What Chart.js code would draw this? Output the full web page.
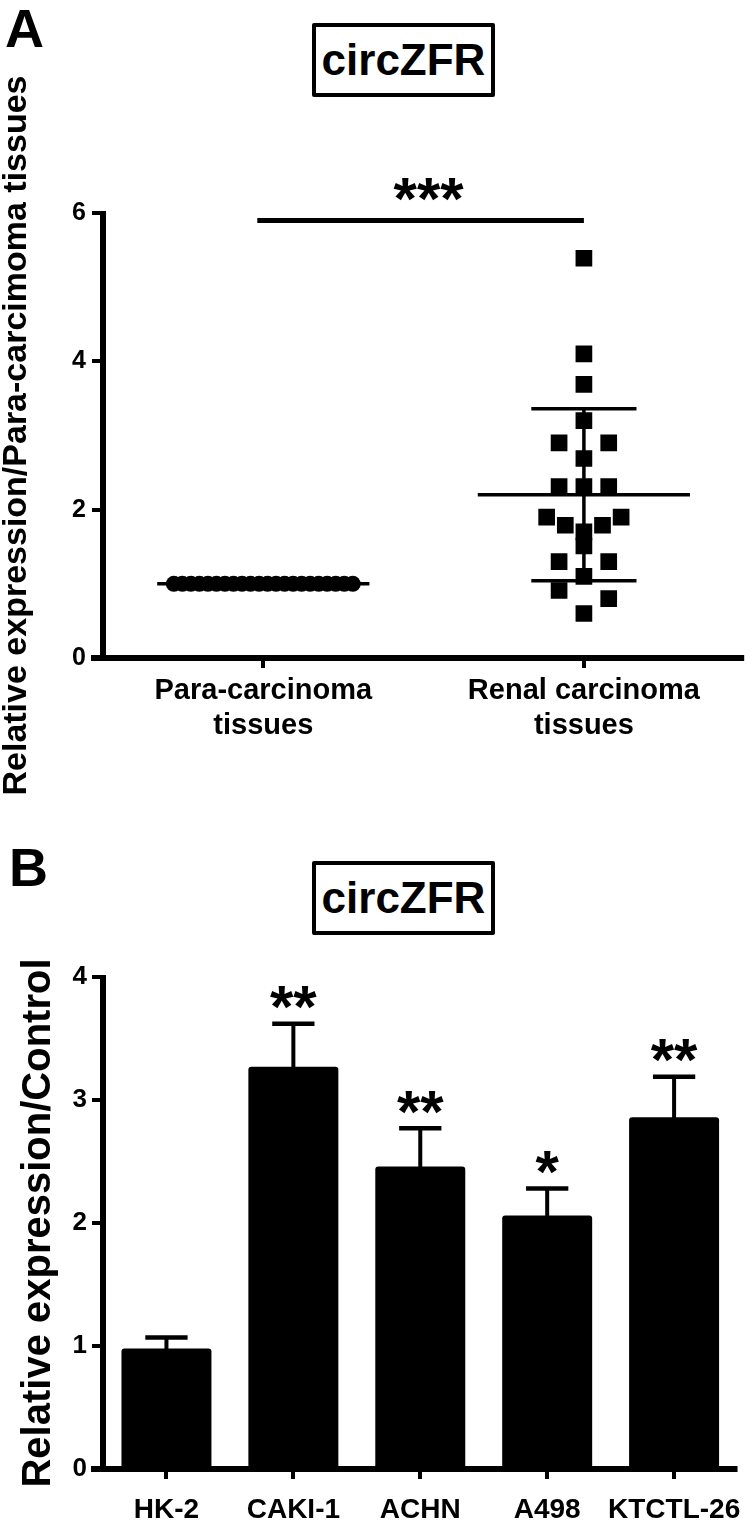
<!DOCTYPE html>
<html lang="en">
<head>
<meta charset="UTF-8">
<title>circZFR expression</title>
<script src="https://cdn.jsdelivr.net/npm/chart.js"></script>
<style>
    body {
        margin: 0;
        background: #fff;
        font-family: "Liberation Sans", Arial, sans-serif;
    }
    #page {
        position: relative;
        width: 756px;
        height: 1525px;
        overflow: hidden;
    }
    .panel-label {
        position: absolute;
        font-weight: bold;
        font-size: 54px;
        line-height: 1;
    }
    .title-box {
        position: absolute;
        left: 312px;
        width: 183px;
        height: 74px;
        box-sizing: border-box;
        border: 4px solid #000;
        border-radius: 2px;
        display: flex;
        align-items: center;
        justify-content: center;
        font-weight: bold;
        font-size: 44px;
        line-height: 1;
    }
    canvas {
        position: absolute;
        left: 0;
    }
</style>
</head>
<body>
<div id="page">
    <div class="panel-label" style="left:5px; top:1px;">A</div>
    <div class="title-box" style="top:23px;">circZFR</div>
    <canvas id="chartA" width="756" height="810" style="top:0;"></canvas>

    <div class="panel-label" style="left:9px; top:840px;">B</div>
    <div class="title-box" style="top:861px;">circZFR</div>
    <canvas id="chartB" width="756" height="715" style="top:810px;"></canvas>
</div>

<script>
    // ---- panel A data ----
    const groupsA = [["Para-carcinoma", "tissues"], ["Renal carcinoma", "tissues"]];
    const paraValues = [1, 1, 1, 1, 1, 1, 1, 1, 1, 1, 1, 1, 1, 1, 1, 1, 1, 1, 1, 1, 1, 1];
    const renalValues = [5.39, 4.10, 3.69, 3.20, 2.90, 2.90, 2.69, 2.31, 2.31, 2.31, 1.90,
                         1.90, 1.79, 1.79, 1.70, 1.51, 1.30, 1.30, 1.10, 0.91, 0.80, 0.60];
    const meanA = [1.00, 2.20];
    const sdA = [0, 1.16];
    const sigBarA = [1, 2];
    const sigLevelA = 5.9;
    const sigTextA = "***";
    const yTicksA = [0, 2, 4, 6];

    // ---- panel B data ----
    const cellLines = ["HK-2", "CAKI-1", "ACHN", "A498", "KTCTL-26"];
    const meanB = [0.98, 3.27, 2.46, 2.06, 2.86];
    const errB = [0.09, 0.35, 0.31, 0.22, 0.33];
    const starsB = ["", "**", "**", "*", "**"];
    const yTicksB = [0, 1, 2, 3, 4];

    const FONT = "'Liberation Sans', Arial, sans-serif";

    // layout constants for the dot plot (in x-axis units)
    const SPREAD_STEP = 0.0774;
    const SPREAD_MAX = 0.279;
    const ROW_GAP = 0.205;
    const MEAN_HALF = 0.331;
    const SD_HALF = 0.164;

    // GraphPad-like column scatter: rows about one marker high, spread sideways
    function swarm(values, center) {
        const order = values.map((v, i) => i).sort((a, b) => values[b] - values[a]);
        const xs = new Array(values.length);
        let row = [];
        const flush = () => {
            const n = row.length;
            const hw = n === 1 ? 0 : Math.min(SPREAD_MAX, SPREAD_STEP * Math.max(1, (n - 1) * 0.375));
            const mid = (n - 1) / 2;
            const slots = [];
            for (let k = 0; k < n; k++) slots.push(n === 1 ? 0 : -hw + 2 * hw * k / (n - 1));
            // outer slots first, the lowest value of a row ends up in the middle
            const slotOrder = slots.map((s, k) => k)
                .sort((a, b) => Math.abs(b - mid) - Math.abs(a - mid) || a - b);
            row.forEach((idx, k) => { xs[idx] = center + slots[slotOrder[k]]; });
            row = [];
        };
        order.forEach(idx => {
            if (row.length && values[row[0]] - values[idx] > ROW_GAP) flush();
            row.push(idx);
        });
        if (row.length) flush();
        return values.map((v, i) => ({ x: xs[i], y: v }));
    }

    // axis lines drawn GraphPad style (x axis runs a bit past the y axis)
    const gpAxes = {
        id: "gpAxes",
        beforeDatasetsDraw(chart) {
            const { ctx, chartArea: a } = chart;
            ctx.save();
            ctx.strokeStyle = "#000";
            ctx.lineWidth = 6;
            ctx.beginPath();
            ctx.moveTo(a.left, a.top - 2);
            ctx.lineTo(a.left, a.bottom + 3);
            ctx.stroke();
            ctx.beginPath();
            ctx.moveTo(a.left - 12, a.bottom);
            ctx.lineTo(a.right, a.bottom);
            ctx.stroke();
            ctx.restore();
        }
    };

    function drawStars(ctx, text, cx, cy, size) {
        ctx.font = "bold " + size + "px " + FONT;
        ctx.textAlign = "center";
        ctx.textBaseline = "alphabetic";
        const m = ctx.measureText(text);
        const mid = (m.actualBoundingBoxAscent - m.actualBoundingBoxDescent) / 2;
        ctx.fillText(text, cx, cy + mid);
    }

    // mean, SD and significance bar for panel A
    const summaryA = {
        id: "summaryA",
        afterDatasetsDraw(chart) {
            const { ctx, scales: { x, y } } = chart;
            const unit = x.getPixelForValue(1) - x.getPixelForValue(0);
            ctx.save();
            ctx.strokeStyle = "#000";
            ctx.fillStyle = "#000";
            meanA.forEach((m, i) => {
                const cx = x.getPixelForValue(i + 1);
                const ym = y.getPixelForValue(m);
                ctx.lineWidth = 3.5;
                ctx.beginPath();
                ctx.moveTo(cx - MEAN_HALF * unit, ym);
                ctx.lineTo(cx + MEAN_HALF * unit, ym);
                ctx.stroke();
                if (sdA[i] > 0) {
                    const yHi = y.getPixelForValue(m + sdA[i]);
                    const yLo = y.getPixelForValue(m - sdA[i]);
                    ctx.beginPath();
                    ctx.moveTo(cx, yHi);
                    ctx.lineTo(cx, yLo);
                    ctx.moveTo(cx - SD_HALF * unit, yHi);
                    ctx.lineTo(cx + SD_HALF * unit, yHi);
                    ctx.moveTo(cx - SD_HALF * unit, yLo);
                    ctx.lineTo(cx + SD_HALF * unit, yLo);
                    ctx.stroke();
                }
            });
            const x1 = x.getPixelForValue(sigBarA[0]) - 6;
            const x2 = x.getPixelForValue(sigBarA[1]);
            const yb = y.getPixelForValue(sigLevelA);
            ctx.lineWidth = 5;
            ctx.beginPath();
            ctx.moveTo(x1, yb);
            ctx.lineTo(x2, yb);
            ctx.stroke();
            drawStars(ctx, sigTextA, (x1 + x2) / 2 + 8, yb - 31, 60);
            ctx.restore();
        }
    };

    // error bars and stars for panel B
    const errorBarsB = {
        id: "errorBarsB",
        afterDatasetsDraw(chart) {
            const { ctx, scales: { y } } = chart;
            const meta = chart.getDatasetMeta(0);
            ctx.save();
            ctx.strokeStyle = "#000";
            ctx.fillStyle = "#000";
            meta.data.forEach((bar, i) => {
                const top = y.getPixelForValue(meanB[i] + errB[i]);
                const half = bar.width * 0.235;
                ctx.lineWidth = 4;
                ctx.beginPath();
                ctx.moveTo(bar.x, bar.y + 2);
                ctx.lineTo(bar.x, top);
                ctx.stroke();
                ctx.lineWidth = 4.5;
                ctx.beginPath();
                ctx.moveTo(bar.x - half, top);
                ctx.lineTo(bar.x + half, top);
                ctx.stroke();
                if (starsB[i]) drawStars(ctx, starsB[i], bar.x, top - 26, 60);
            });
            ctx.restore();
        }
    };

    const tickFont = size => ({ family: FONT, weight: "bold", size: size });

    new Chart(document.getElementById("chartA"), {
        type: "scatter",
        data: {
            datasets: [
                {
                    data: swarm(paraValues, 1),
                    pointStyle: "circle",
                    pointRadius: 8,
                    pointBackgroundColor: "#000",
                    pointBorderWidth: 0
                },
                {
                    data: swarm(renalValues, 2),
                    pointStyle: "rect",
                    pointRadius: 11.8,
                    pointBackgroundColor: "#000",
                    pointBorderWidth: 0
                }
            ]
        },
        options: {
            responsive: false,
            animation: false,
            events: [],
            layout: { padding: { top: 213, right: 7, bottom: 0, left: 0 } },
            plugins: { legend: { display: false }, tooltip: { enabled: false } },
            scales: {
                x: {
                    type: "linear",
                    min: 0.5,
                    max: 2.5,
                    afterBuildTicks: s => { s.ticks = groupsA.map((g, i) => ({ value: i + 1 })); },
                    afterFit: s => { s.height = 152; },
                    border: { display: false },
                    grid: { drawOnChartArea: false, tickLength: 10, lineWidth: 4, color: "#000" },
                    ticks: {
                        color: "#000",
                        padding: 6,
                        maxRotation: 0,
                        autoSkip: false,
                        font: { family: FONT, weight: "bold", size: 29, lineHeight: 1.2 },
                        callback: v => groupsA[v - 1]
                    }
                },
                y: {
                    min: 0,
                    max: 6,
                    afterBuildTicks: s => { s.ticks = yTicksA.map(v => ({ value: v })); },
                    afterFit: s => { s.width = 103; },
                    border: { display: false },
                    grid: { drawOnChartArea: false, tickLength: 11, lineWidth: 4, color: "#000" },
                    ticks: { color: "#000", padding: 6, font: tickFont(25) },
                    title: {
                        display: true,
                        text: "Relative expression/Para-carcimoma tissues",
                        color: "#000",
                        padding: { top: 0, bottom: 0 },
                        font: { family: FONT, weight: "bold", size: 34, lineHeight: 1 }
                    }
                }
            }
        },
        plugins: [gpAxes, summaryA]
    });

    new Chart(document.getElementById("chartB"), {
        type: "bar",
        data: {
            labels: cellLines,
            datasets: [{
                data: meanB,
                backgroundColor: "#000",
                borderWidth: 0,
                borderRadius: 3,
                barPercentage: 0.709,
                categoryPercentage: 1
            }]
        },
        options: {
            responsive: false,
            animation: false,
            events: [],
            layout: { padding: { top: 167, right: 18, bottom: 0, left: 0 } },
            plugins: { legend: { display: false }, tooltip: { enabled: false } },
            scales: {
                x: {
                    afterFit: s => { s.height = 56; },
                    border: { display: false },
                    grid: { offset: false, drawOnChartArea: false, tickLength: 10, lineWidth: 4, color: "#000" },
                    ticks: {
                        color: "#000",
                        padding: 14,
                        maxRotation: 0,
                        autoSkip: false,
                        font: { family: FONT, weight: "bold", size: 28, lineHeight: 1.2 }
                    }
                },
                y: {
                    min: 0,
                    max: 4,
                    afterBuildTicks: s => { s.ticks = yTicksB.map(v => ({ value: v })); },
                    afterFit: s => { s.width = 103; },
                    border: { display: false },
                    grid: { drawOnChartArea: false, tickLength: 11, lineWidth: 4, color: "#000" },
                    ticks: { color: "#000", padding: 5, font: tickFont(26) },
                    title: {
                        display: true,
                        text: "Relative expression/Control",
                        color: "#000",
                        padding: { top: 19, bottom: 0 },
                        font: { family: FONT, weight: "bold", size: 40, lineHeight: 1 }
                    }
                }
            }
        },
        plugins: [gpAxes, errorBarsB]
    });
</script>
</body>
</html>
